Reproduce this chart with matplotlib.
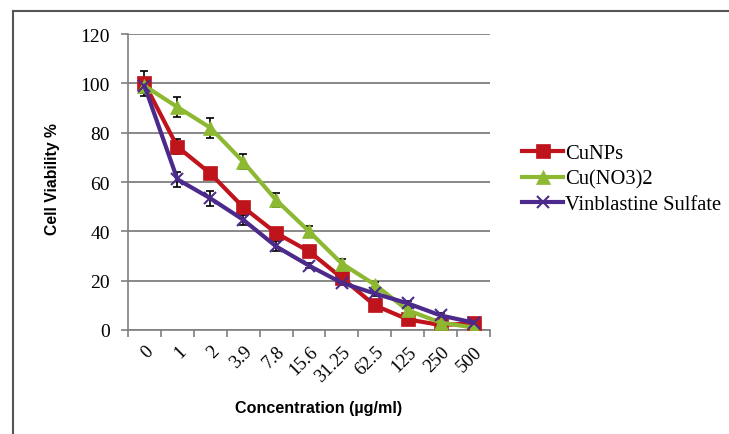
import matplotlib
matplotlib.use("Agg")
import matplotlib.pyplot as plt
from matplotlib.lines import Line2D
import numpy as np

concentrations = ["0", "1", "2", "3.9", "7.8", "15.6", "31.25", "62.5", "125", "250", "500"]
cunps = [100, 74.3, 63.5, 49.8, 39.3, 31.9, 21.1, 10.0, 4.3, 2.0, 2.7]
cunps_err = [5, 3, 2, 2, 2, 2, 2, 1, 1, 1, 1]
cuno3 = [99, 90.4, 82.0, 68.2, 52.7, 40.0, 26.9, 18.4, 8.0, 3.0, 1.0]
cuno3_err = [3, 4, 4, 3, 3, 2, 2, 1, 1, 1, 1]
vinb = [99, 61.1, 53.4, 44.7, 33.9, 26.1, 19.1, 14.8, 10.8, 5.9, 3.0]
vinb_err = [3, 3, 3, 2, 2, 1, 1, 1, 1, 1, 1]
series_names = ["CuNPs", "Cu(NO3)2", "Vinblastine Sulfate"]
yticks = [0, 20, 40, 60, 80, 100, 120]

fig = plt.figure(figsize=(7.29, 4.35), dpi=100)
ax = fig.add_axes([128/729, 1-331/435, 362/729, 296/435])

x = np.arange(len(concentrations))
colors = ["#C0141C", "#8DB832", "#4B2A8C"]
markers = ["s", "^", "x"]
data = [(cunps, cunps_err), (cuno3, cuno3_err), (vinb, vinb_err)]
msizes = [10, 10, 9]
handles = []
for (vals, errs), c, m, name, ms in zip(data, colors, markers, series_names, msizes):
    ax.errorbar(x, vals, yerr=errs, fmt="none", ecolor="black", elinewidth=1.2,
                capsize=3, capthick=1.2, zorder=2)
    h, = ax.plot(x, vals, color=c, lw=3, marker=m, markersize=ms,
                 markeredgewidth=1.5 if m == "x" else 0.5, markeredgecolor=c,
                 label=name, zorder=3)
    handles.append(h)

ax.set_xlim(-0.5, len(concentrations) - 0.5)
ax.set_ylim(0, 120)
ax.set_yticks(yticks)
ax.set_yticklabels([str(t) for t in yticks], family="Liberation Serif", fontsize=14)
ax.yaxis.grid(True, color="#7f7f7f", lw=1.3)
ax.set_axisbelow(True)

ax.set_xticks(np.arange(-0.5, len(concentrations), 1.0))
ax.set_xticklabels([])
ax.set_xticks(x, minor=True)
ax.set_xticklabels(concentrations, minor=True, rotation=45, ha="right",
                   rotation_mode="anchor", family="Liberation Serif", fontsize=13.5)
ax.tick_params(axis="x", which="major", length=5, color="#7f7f7f", width=1.2)
ax.tick_params(axis="x", which="minor", length=0, pad=9)
ax.tick_params(axis="y", length=5, color="#7f7f7f", width=1.2, pad=8)

for s in ["top", "right"]:
    ax.spines[s].set_visible(False)
for s in ["left", "bottom"]:
    ax.spines[s].set_color("#7f7f7f")
    ax.spines[s].set_linewidth(1.2)

fig.text(53/729, 1-179/435, "Cell Viability %", family="Liberation Sans",
         fontweight="bold", fontsize=11.3, ha="center", va="center", rotation=90)
fig.text(319/729, 1-409/435, "Concentration (µg/ml)", family="Liberation Sans",
         fontweight="bold", fontsize=11.6, ha="center", va="center")

leg = fig.legend(handles=handles, loc="center left", bbox_to_anchor=(512/729, 1-180/435),
                 frameon=False, prop={"family": "Liberation Serif", "size": 14.8},
                 handlelength=2.0, handletextpad=0.1, labelspacing=0.3,
                 borderaxespad=0.0, borderpad=0.5)

fig.add_artist(Line2D([13/729, 1], [1-12/435, 1-12/435], color="#555555", lw=1.5))
fig.add_artist(Line2D([13/729, 13/729], [0, 1-12/435], color="#555555", lw=1.5))

fig.savefig("out.png", dpi=100)
